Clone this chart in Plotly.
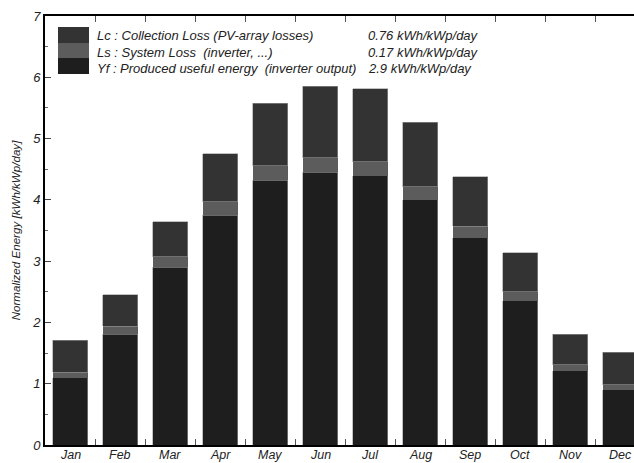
import plotly.graph_objects as go

months = ["Jan", "Feb", "Mar", "Apr", "May", "Jun", "Jul", "Aug", "Sep", "Oct", "Nov", "Dec"]
yf = [1.10, 1.81, 2.90, 3.75, 4.32, 4.45, 4.39, 4.00, 3.38, 2.35, 1.21, 0.90]
ls = [0.09, 0.13, 0.17, 0.22, 0.24, 0.24, 0.23, 0.21, 0.19, 0.15, 0.10, 0.08]
lc = [0.52, 0.51, 0.57, 0.78, 1.02, 1.16, 1.19, 1.06, 0.81, 0.64, 0.50, 0.53]

legend_names = ["Lc : Collection Loss (PV-array losses)",
                "Ls : System Loss  (inverter, ...)",
                "Yf : Produced useful energy  (inverter output)"]
legend_values = ["0.76 kWh/kWp/day", "0.17 kWh/kWp/day", "2.9 kWh/kWp/day"]

c_yf, c_ls, c_lc = "#1e1e1e", "#5c5c5c", "#333333"
edge = dict(color="#9a9a9a", width=0.6)

fig = go.Figure()
fig.add_trace(go.Bar(x=months, y=yf, marker=dict(color=c_yf, line=edge), width=0.7, showlegend=False))
fig.add_trace(go.Bar(x=months, y=ls, marker=dict(color=c_ls, line=dict(width=0)), width=0.7, showlegend=False))
fig.add_trace(go.Bar(x=months, y=lc, marker=dict(color=c_lc, line=edge), width=0.7, showlegend=False))

font = "Liberation Sans, Arial, sans-serif"

fig.update_layout(
    barmode="stack",
    width=634, height=463,
    margin=dict(l=45, r=0, t=16, b=18, autoexpand=False),
    plot_bgcolor="white", paper_bgcolor="white",
    font=dict(family=font, color="#222"),
    xaxis=dict(range=[-0.5, 11.28], tickson="boundaries", ticks="inside", ticklen=6,
               tickcolor="#555", tickwidth=1, showline=True, linecolor="black", linewidth=2,
               mirror="ticks", showgrid=False, automargin=False, showticklabels=False),
    yaxis=dict(range=[0, 7], tickvals=[0, 1, 2, 3, 4, 5, 6, 7], ticks="inside", ticklen=6,
               tickcolor="#444", showline=True, linecolor="black", linewidth=2,
               showgrid=False, zeroline=False, automargin=False,
               minor=dict(dtick=0.5, ticks="inside", ticklen=3, tickcolor="#666"),
               tickfont=dict(family=font, size=13, style="italic", color="#222"),
               title=dict(text="Normalized Energy [kWh/kWp/day]", standoff=9,
                          font=dict(family=font, size=11.6, style="italic", color="#222"))),
)

W, H = 634, 463
pw, ph = W - 45, H - 16 - 18
def px(x):
    return (x - 45) / pw
def py(y):
    return 1 - (y - 16) / ph

# month labels below the axis, at category positions
for m in months:
    fig.add_annotation(xref="x", yref="paper", x=m, y=py(455), text=m, showarrow=False,
                       xanchor="center", yanchor="middle",
                       font=dict(family=font, size=12.5, style="italic", color="#222"))

# legend swatch (stacked block) and texts
sw_x0, sw_x1 = 58, 89
rows = [(27, 43, c_lc), (43, 58, c_ls), (58, 74, c_yf)]
for (y0, y1, col) in rows:
    fig.add_shape(type="rect", xref="paper", yref="paper",
                  x0=px(sw_x0), x1=px(sw_x1), y0=py(y1), y1=py(y0),
                  fillcolor=col, line=dict(width=0), layer="above")
text_y = [36, 52, 68]
for name, val, ty in zip(legend_names, legend_values, text_y):
    fig.add_annotation(xref="paper", yref="paper", x=px(95), y=py(ty), text=name,
                       showarrow=False, xanchor="left", yanchor="middle",
                       font=dict(family=font, size=13, style="italic", color="#222"))
    fig.add_annotation(xref="paper", yref="paper", x=px(366), y=py(ty), text=val,
                       showarrow=False, xanchor="left", yanchor="middle",
                       font=dict(family=font, size=13, style="italic", color="#222"))

fig.write_html("out.html", config={"displayModeBar": False},
               post_script="document.body.style.margin='0';document.body.style.overflow='hidden';")
